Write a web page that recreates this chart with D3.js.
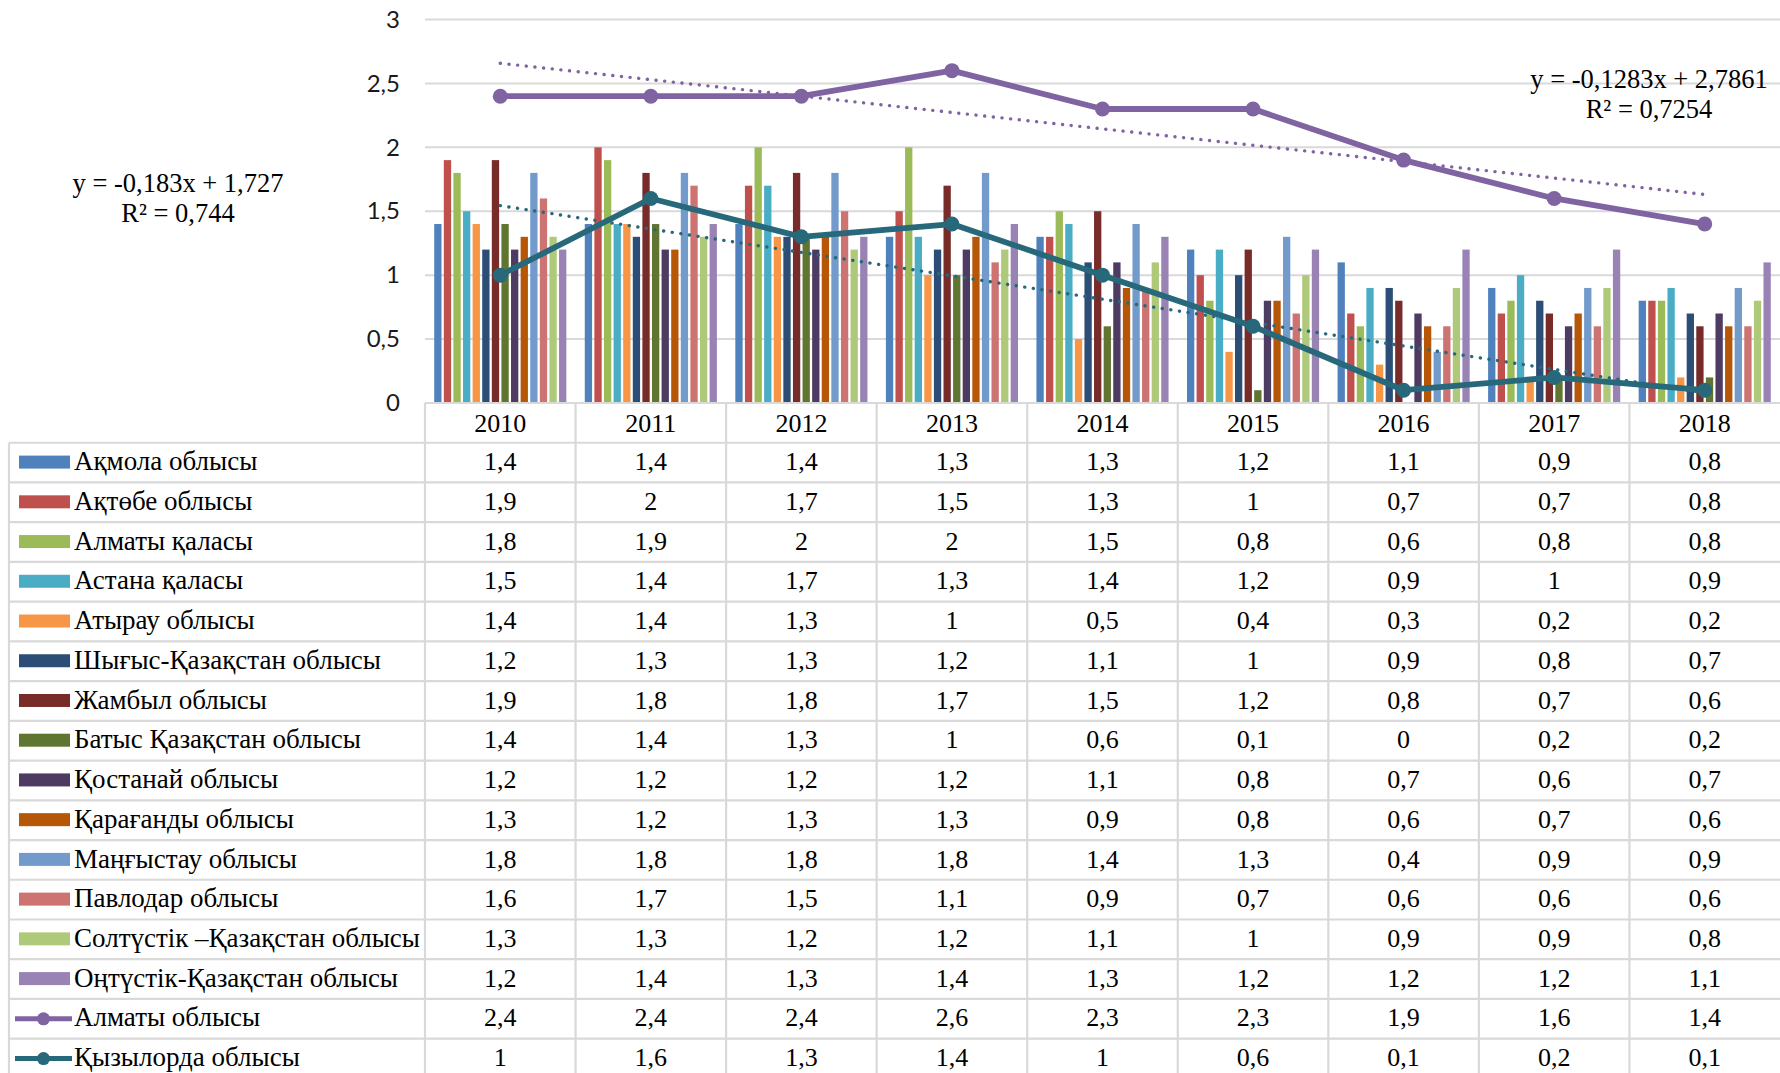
<!DOCTYPE html>
<html>
<head>
<meta charset="utf-8">
<script src="https://cdn.jsdelivr.net/npm/d3@7"></script>
<style>
  html, body { margin: 0; padding: 0; background: #fff; }
  svg { display: block; }
</style>
</head>
<body>
<script>
// Years along the category axis
const years = ["2010", "2011", "2012", "2013", "2014", "2015", "2016", "2017", "2018"];

// Column series (one array per region)
const akmola      = [1.4, 1.4, 1.4, 1.3, 1.3, 1.2, 1.1, 0.9, 0.8];
const aktobe      = [1.9, 2, 1.7, 1.5, 1.3, 1, 0.7, 0.7, 0.8];
const almatyCity  = [1.8, 1.9, 2, 2, 1.5, 0.8, 0.6, 0.8, 0.8];
const astanaCity  = [1.5, 1.4, 1.7, 1.3, 1.4, 1.2, 0.9, 1, 0.9];
const atyrau      = [1.4, 1.4, 1.3, 1, 0.5, 0.4, 0.3, 0.2, 0.2];
const eastKaz     = [1.2, 1.3, 1.3, 1.2, 1.1, 1, 0.9, 0.8, 0.7];
const zhambyl     = [1.9, 1.8, 1.8, 1.7, 1.5, 1.2, 0.8, 0.7, 0.6];
const westKaz     = [1.4, 1.4, 1.3, 1, 0.6, 0.1, 0, 0.2, 0.2];
const kostanay    = [1.2, 1.2, 1.2, 1.2, 1.1, 0.8, 0.7, 0.6, 0.7];
const karaganda   = [1.3, 1.2, 1.3, 1.3, 0.9, 0.8, 0.6, 0.7, 0.6];
const mangystau   = [1.8, 1.8, 1.8, 1.8, 1.4, 1.3, 0.4, 0.9, 0.9];
const pavlodar    = [1.6, 1.7, 1.5, 1.1, 0.9, 0.7, 0.6, 0.6, 0.6];
const northKaz    = [1.3, 1.3, 1.2, 1.2, 1.1, 1, 0.9, 0.9, 0.8];
const southKaz    = [1.2, 1.4, 1.3, 1.4, 1.3, 1.2, 1.2, 1.2, 1.1];

// Line series
const almatyRegion = [2.4, 2.4, 2.4, 2.6, 2.3, 2.3, 1.9, 1.6, 1.4];
const kyzylorda    = [1, 1.6, 1.3, 1.4, 1, 0.6, 0.1, 0.2, 0.1];

// Linear trend coefficients (slope, intercept, R²)
const almatyTrend    = [-0.1283, 2.7861, 0.7254];
const kyzylordaTrend = [-0.183, 1.727, 0.744];

// Value axis ticks
const yTicks = [0, 0.5, 1, 1.5, 2, 2.5, 3];

const barNames = [
  "Ақмола облысы", "Ақтөбе облысы", "Алматы қаласы", "Астана қаласы", "Атырау облысы",
  "Шығыс-Қазақстан облысы", "Жамбыл облысы", "Батыс Қазақстан облысы", "Қостанай облысы",
  "Қарағанды облысы", "Маңғыстау облысы", "Павлодар облысы",
  "Солтүстік –Қазақстан облысы", "Оңтүстік-Қазақстан облысы"
];
const barData = [akmola, aktobe, almatyCity, astanaCity, atyrau, eastKaz, zhambyl,
  westKaz, kostanay, karaganda, mangystau, pavlodar, northKaz, southKaz];
const lineNames = ["Алматы облысы", "Қызылорда облысы"];
const lineData = [almatyRegion, kyzylorda];

const barColors = ["#4F81BD", "#C0504D", "#9BBB59", "#4BACC6", "#F79646", "#2C4D75",
  "#772C2A", "#5F7530", "#4D3B62", "#B65708", "#729ACA", "#CD7371", "#AFC97A", "#9983B5"];
const lineColors = ["#8064A2", "#27697B"];

const W = 1780, H = 1073;
const plotLeft = 425, plotRight = 1780, plotTop = 19.5, plotBottom = 403;
const rowH = 39.73;
const tableLeft = 9;
const serif = "'Liberation Serif', 'Times New Roman', serif";

const fmt = v => String(v).replace(".", ",");

const svg = d3.select("body").append("svg")
  .attr("width", W).attr("height", H)
  .style("background", "#fff");

const x = d3.scaleBand().domain(years).range([plotLeft, plotRight]).padding(0);
const x1 = d3.scaleBand().domain(d3.range(barNames.length))
  .range([0, x.bandwidth()]).paddingInner(0.24).paddingOuter(0.96);
const y = d3.scaleLinear().domain([0, 3]).range([plotBottom, plotTop]);

// Horizontal gridlines
svg.append("g").selectAll("line").data(yTicks).join("line")
  .attr("x1", plotLeft).attr("x2", plotRight)
  .attr("y1", d => y(d)).attr("y2", d => y(d))
  .attr("stroke", "#D9D9D9").attr("stroke-width", 2);

// Value axis labels
const yAxis = d3.axisLeft(y).tickValues(yTicks).tickFormat(fmt).tickSize(0).tickPadding(0);
const yg = svg.append("g").attr("transform", `translate(${plotLeft - 25},0)`).call(yAxis);
yg.select(".domain").remove();
yg.selectAll("text")
  .attr("font-family", "Lato, 'Open Sans', sans-serif")
  .attr("font-size", 24)
  .attr("fill", "#1a1a1a");

// Clustered columns
const groups = svg.append("g").selectAll("g").data(years).join("g")
  .attr("transform", d => `translate(${x(d)},0)`);
groups.selectAll("rect")
  .data((yr, i) => barData.map((s, k) => ({ k, v: s[i] })))
  .join("rect")
  .attr("x", d => x1(d.k))
  .attr("width", x1.bandwidth())
  .attr("y", d => y(d.v))
  .attr("height", d => y(0) - y(d.v))
  .attr("fill", d => barColors[d.k]);

// Dotted linear trendlines
const cx = yr => x(yr) + x.bandwidth() / 2;
[almatyTrend, kyzylordaTrend].forEach((t, i) => {
  const pts = years.map((yr, j) => [cx(yr), y(t[0] * (j + 1) + t[1])]);
  svg.append("path")
    .attr("d", d3.line()(pts))
    .attr("fill", "none")
    .attr("stroke", lineColors[i])
    .attr("stroke-width", 3.4)
    .attr("stroke-linecap", "round")
    .attr("stroke-dasharray", "0.1,8.6");
});

// Line series with circle markers
lineData.forEach((s, i) => {
  const line = d3.line().x((d, j) => cx(years[j])).y(d => y(d));
  svg.append("path")
    .attr("d", line(s))
    .attr("fill", "none")
    .attr("stroke", lineColors[i])
    .attr("stroke-width", 5.8)
    .attr("stroke-linejoin", "round");
  svg.append("g").selectAll("circle").data(s).join("circle")
    .attr("cx", (d, j) => cx(years[j]))
    .attr("cy", d => y(d))
    .attr("r", 7.5)
    .attr("fill", lineColors[i]);
});

// Trend equations
function equation(t, cxPos, yPos) {
  const g = svg.append("g")
    .attr("font-family", serif).attr("font-size", 26.5)
    .attr("fill", "#000").attr("text-anchor", "middle");
  const sign = t[1] >= 0 ? "+" : "-";
  g.append("text").attr("x", cxPos).attr("y", yPos)
    .text(`y = ${fmt(t[0])}x ${sign} ${fmt(Math.abs(t[1]))}`);
  g.append("text").attr("x", cxPos).attr("y", yPos + 30)
    .text(`R² = ${fmt(t[2])}`);
}
equation(almatyTrend, 1649, 88);
equation(kyzylordaTrend, 178, 192);

// Data table
const table = svg.append("g");
const allNames = barNames.concat(lineNames);
const allData = barData.concat(lineData);
const rowTop = i => plotBottom + rowH * (i + 1);
const gridColor = "#D9D9D9";

// Header cells (years)
table.append("line").attr("x1", plotLeft).attr("x2", plotRight)
  .attr("y1", plotBottom).attr("y2", plotBottom)
  .attr("stroke", gridColor).attr("stroke-width", 2.2);
table.selectAll(".hdr").data(years).join("text")
  .attr("x", d => cx(d)).attr("y", plotBottom + 29)
  .attr("text-anchor", "middle")
  .attr("font-family", serif).attr("font-size", 26)
  .text(d => d);

// Row separators
d3.range(allNames.length + 1).forEach(i => {
  table.append("line").attr("x1", tableLeft).attr("x2", plotRight)
    .attr("y1", rowTop(i)).attr("y2", rowTop(i))
    .attr("stroke", gridColor).attr("stroke-width", 2.2);
});
// Column separators
years.forEach(yr => {
  table.append("line").attr("x1", x(yr)).attr("x2", x(yr))
    .attr("y1", plotBottom).attr("y2", H + 10)
    .attr("stroke", gridColor).attr("stroke-width", 2.2);
});
table.append("line").attr("x1", tableLeft).attr("x2", tableLeft)
  .attr("y1", rowTop(0)).attr("y2", H + 10)
  .attr("stroke", gridColor).attr("stroke-width", 2.2);

allNames.forEach((name, i) => {
  const top = rowTop(i);
  const mid = top + rowH / 2;
  if (i < barNames.length) {
    table.append("rect").attr("x", 19).attr("y", mid - 7)
      .attr("width", 51).attr("height", 13).attr("fill", barColors[i]);
  } else {
    const c = lineColors[i - barNames.length];
    table.append("line").attr("x1", 15).attr("x2", 72)
      .attr("y1", mid).attr("y2", mid)
      .attr("stroke", c).attr("stroke-width", 5);
    table.append("circle").attr("cx", 43.5).attr("cy", mid).attr("r", 6.5).attr("fill", c);
  }
  table.append("text").attr("x", 74).attr("y", top + 27.5)
    .attr("font-family", serif).attr("font-size", 27)
    .text(name);
  table.selectAll(null).data(allData[i]).join("text")
    .attr("x", (d, j) => cx(years[j])).attr("y", top + 27.5)
    .attr("text-anchor", "middle")
    .attr("font-family", serif).attr("font-size", 26)
    .text(d => fmt(d));
});
</script>
</body>
</html>
